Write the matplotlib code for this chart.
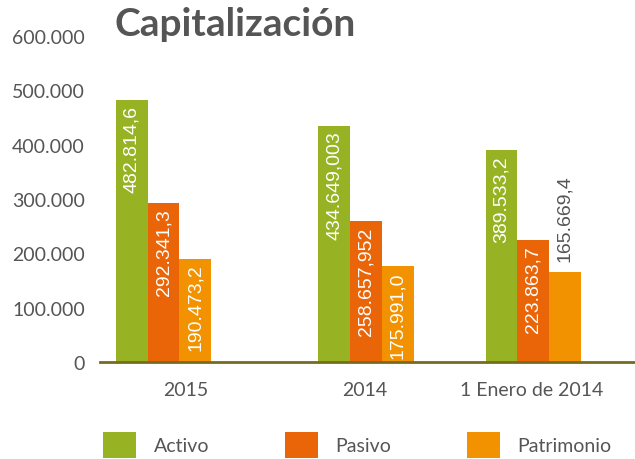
import matplotlib
matplotlib.use("Agg")
import matplotlib.pyplot as plt
from matplotlib.ticker import FuncFormatter

categories = ["2015", "2014", "1 Enero de 2014"]
series_names = ["Activo", "Pasivo", "Patrimonio"]
activo = [482814.6, 434649.003, 389533.2]
pasivo = [292341.3, 258657.952, 223863.7]
patrimonio = [190473.2, 175991.0, 165669.4]
activo_labels = ["482.814,6", "434.649,003", "389.533,2"]
pasivo_labels = ["292.341,3", "258.657,952", "223.863,7"]
patrimonio_labels = ["190.473,2", "175.991,0", "165.669,4"]
y_ticks = [0, 100000, 200000, 300000, 400000, 500000, 600000]

colors = ["#97b324", "#ea6408", "#f29200"]
text_gray = "#555555"

fig = plt.figure(figsize=(6.35, 4.6), dpi=100)
ax = fig.add_axes([100 / 635, 97 / 460, 535 / 635, 326 / 460])

group_x = [0.0, 1.0, 1.825]
label_x = [0.111, 0.995, 1.82]
bw = 0.1565

series = [activo, pasivo, patrimonio]
labels = [activo_labels, pasivo_labels, patrimonio_labels]
for i, (vals, labs) in enumerate(zip(series, labels)):
    xs = [g + (i - 1) * bw for g in group_x]
    ax.bar(xs, vals, width=bw, color=colors[i], label=series_names[i], zorder=2)
    for j, (x, v, t) in enumerate(zip(xs, vals, labs)):
        if i == 2 and j == 2:
            ax.annotate(t, (x, v), xytext=(0, 8), textcoords="offset points",
                        rotation=90, ha="center", va="bottom", color=text_gray,
                        fontsize=14, family="Liberation Sans")
        else:
            ax.annotate(t, (x, v), xytext=(0, -3.5), textcoords="offset points",
                        rotation=90, ha="center", va="top", color="white",
                        fontsize=14, family="Liberation Sans")

ax.set_xlim(-0.3136, 2.328)
ax.set_ylim(0, 600000)
ax.set_yticks(y_ticks)
ax.yaxis.set_major_formatter(FuncFormatter(lambda v, p: f"{int(v):,}".replace(",", ".")))
ax.set_xticks(label_x)
ax.set_xticklabels(categories)
ax.tick_params(axis="y", length=0, pad=11, labelsize=14, labelcolor=text_gray)
ax.tick_params(axis="x", length=0, pad=14, labelsize=14, labelcolor=text_gray)
for lab in ax.get_xticklabels() + ax.get_yticklabels():
    lab.set_family("Lato")
for s in ax.spines.values():
    s.set_visible(False)
ax.axhline(0, color="#776b1f", linewidth=2.0, zorder=3, clip_on=False)

fig.text(114 / 635, 1 - 7 / 460, "Capitalización", ha="left", va="top",
         fontsize=28, fontweight="bold", color="#555555", family="Lato")

leg = fig.legend(loc="lower left", bbox_to_anchor=(103 / 635, 1 / 460), ncol=3,
                 frameon=False, prop={"family": "Lato", "size": 14},
                 handlelength=1.7, handleheight=1.7, handletextpad=0.9,
                 columnspacing=3.9, borderpad=0, borderaxespad=0)
for t in leg.get_texts():
    t.set_color(text_gray)

fig.savefig("out.png", dpi=100)
